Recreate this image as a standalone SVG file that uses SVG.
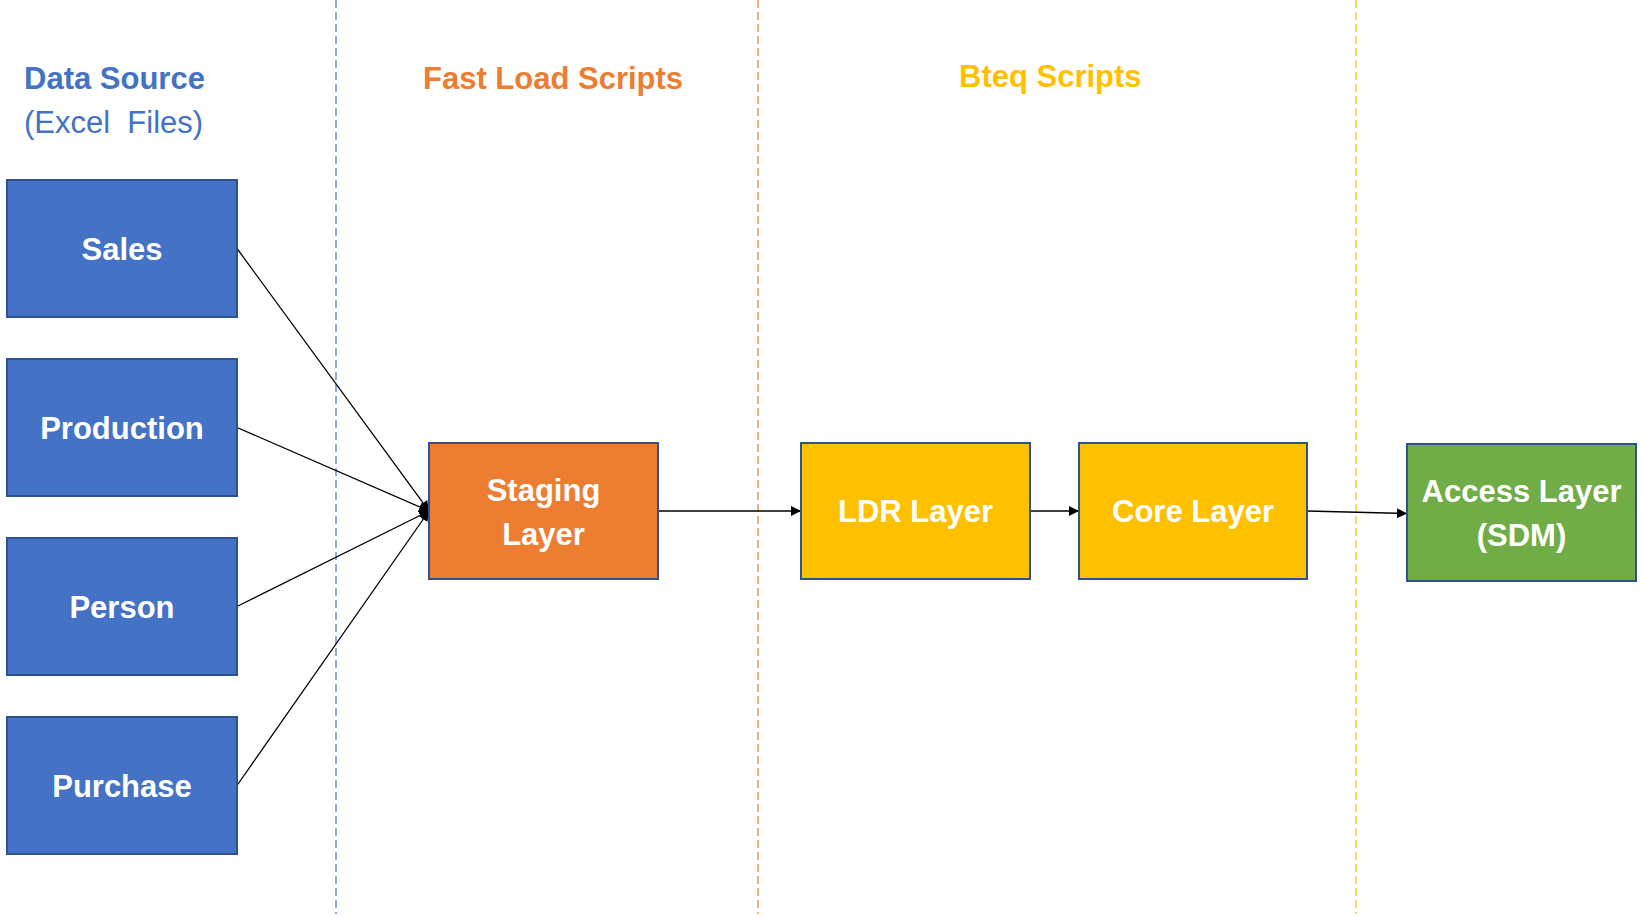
<svg xmlns="http://www.w3.org/2000/svg" width="1642" height="917" viewBox="0 0 1642 917">
<style>
.t{font-family:"Liberation Sans",Arial,sans-serif;}
.hd{font-size:31px;font-weight:bold;}
.lbl{font-size:31px;font-weight:bold;fill:#FFFFFF;text-anchor:middle;}
.box{stroke:#2F528F;stroke-width:2;}
.blue{fill:#4472C4;}
.orange{fill:#ED7D31;}
.yellow{fill:#FFC000;}
.green{fill:#70AD47;}
.conn{stroke:#000000;stroke-width:1.3;fill:none;marker-end:url(#arr);}
.sep{stroke-width:1.2;stroke-dasharray:8 4;fill:none;}
</style>
<defs>
<marker id="arr" viewBox="0 0 10 10" refX="10" refY="5" markerWidth="10" markerHeight="10" markerUnits="userSpaceOnUse" orient="auto">
<path d="M0,0 L10,5 L0,10 z" fill="#000000"/>
</marker>
</defs>
<rect width="1642" height="917" fill="#FFFFFF"/>
<g id="separators">
<line class="sep" x1="336" y1="0" x2="336" y2="914" stroke="#4472C4"/>
<line class="sep" x1="758" y1="0" x2="758" y2="914" stroke="#ED7D31"/>
<line class="sep" x1="1356" y1="0" x2="1356" y2="914" stroke="#FFC000"/>
</g>
<g id="headers">
<text class="t hd" x="24" y="89" fill="#4472C4">Data Source</text>
<text class="t" x="24" y="133" font-size="31" fill="#4472C4" xml:space="preserve">(Excel  Files)</text>
<text class="t hd" x="423" y="89" fill="#ED7D31" font-size="30">Fast Load Scripts</text>
<text class="t hd" x="959" y="87" fill="#FFC000">Bteq Scripts</text>
</g>
<g id="connectors">
<line class="conn" x1="237" y1="248.5" x2="429" y2="511"/>
<line class="conn" x1="237" y1="427.5" x2="429" y2="511"/>
<line class="conn" x1="237" y1="606.5" x2="429" y2="511"/>
<line class="conn" x1="237" y1="785.5" x2="429" y2="511"/>
<line class="conn" x1="658" y1="511" x2="801" y2="511"/>
<line class="conn" x1="1030" y1="511" x2="1079" y2="511"/>
<line class="conn" x1="1307" y1="511" x2="1407" y2="513.5"/>
</g>
<g id="sales">
<rect class="box blue" x="7" y="180" width="230" height="137"/>
<text class="t lbl" x="122" y="260">Sales</text>
</g>
<g id="production">
<rect class="box blue" x="7" y="359" width="230" height="137"/>
<text class="t lbl" x="122" y="439">Production</text>
</g>
<g id="person">
<rect class="box blue" x="7" y="538" width="230" height="137"/>
<text class="t lbl" x="122" y="618">Person</text>
</g>
<g id="purchase">
<rect class="box blue" x="7" y="717" width="230" height="137"/>
<text class="t lbl" x="122" y="797">Purchase</text>
</g>
<g id="staging">
<rect class="box orange" x="429" y="443" width="229" height="136"/>
<text class="t lbl" x="543.5" y="501">Staging</text>
<text class="t lbl" x="543.5" y="545">Layer</text>
</g>
<g id="ldr">
<rect class="box yellow" x="801" y="443" width="229" height="136"/>
<text class="t lbl" x="915.5" y="522">LDR Layer</text>
</g>
<g id="core">
<rect class="box yellow" x="1079" y="443" width="228" height="136"/>
<text class="t lbl" x="1193" y="522">Core Layer</text>
</g>
<g id="access">
<rect class="box green" x="1407" y="444" width="229" height="137"/>
<text class="t lbl" x="1521.5" y="502">Access Layer</text>
<text class="t lbl" x="1521.5" y="546">(SDM)</text>
</g>
</svg>
